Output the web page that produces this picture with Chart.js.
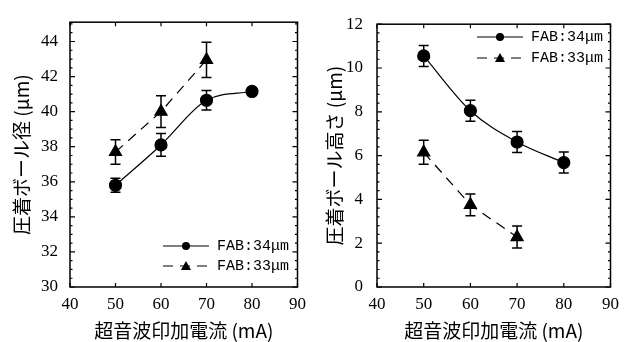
<!DOCTYPE html>
<html>
<head>
<meta charset="utf-8">
<script src="https://cdn.jsdelivr.net/npm/chart.js@4.4.1/dist/chart.umd.min.js"></script>
<style>
  html, body { margin: 0; padding: 0; background: #fff; }
  #wrap { width: 626px; height: 342px; display: flex; }
  canvas { display: block; }
</style>
</head>
<body>
<div id="wrap">
  <canvas id="chart_diameter" width="313" height="342"></canvas>
  <canvas id="chart_height" width="313" height="342"></canvas>
</div>
<script>
// x: ultrasonic current (mA)
const currents34 = [50, 60, 70, 80];
const currents33 = [50, 60, 70];
const xTicks = [40, 50, 60, 70, 80, 90];

// left: bonded ball diameter (um)
const diameter34 = [35.8, 38.1, 40.65, 41.15];
const diameter34Err = [0.4, 0.65, 0.55, 0.2];
const diameter33 = [37.7, 40.0, 42.95];
const diameter33Err = [0.7, 0.9, 1.0];
const diameterTicks = [30, 32, 34, 36, 38, 40, 42, 44];

// right: bonded ball height (um)
const height34 = [10.55, 8.05, 6.62, 5.68];
const height34Err = [0.48, 0.48, 0.48, 0.48];
const height33 = [6.15, 3.75, 2.28];
const height33Err = [0.55, 0.5, 0.5];
const heightTicks = [0, 2, 4, 6, 8, 10, 12];

const legendLabels = ["FAB:34\u03bcm", "FAB:33\u03bcm"];

const tickFont = { family: "'Liberation Serif', serif", size: 17 };
const titleFont = { family: "'Noto Sans CJK JP', sans-serif", size: 19 };

// error bars drawn through the chart scales
const errorBars = {
  id: "errorBars",
  afterDatasetsDraw(chart) {
    const ctx = chart.ctx;
    const xs = chart.scales.x, ys = chart.scales.y;
    ctx.save();
    ctx.strokeStyle = "#000";
    ctx.lineWidth = 1.5;
    chart.data.datasets.forEach((ds) => {
      ds.data.forEach((p, i) => {
        const e = ds.errors[i];
        const px = xs.getPixelForValue(p.x);
        const top = ys.getPixelForValue(p.y + e);
        const bot = ys.getPixelForValue(p.y - e);
        ctx.beginPath();
        ctx.moveTo(px, top); ctx.lineTo(px, bot);
        ctx.moveTo(px - 5, top); ctx.lineTo(px + 5, top);
        ctx.moveTo(px - 5, bot); ctx.lineTo(px + 5, bot);
        ctx.stroke();
      });
    });
    ctx.restore();
  },
};

// box frame with inward ticks on all four sides
const frameTicks = {
  id: "frameTicks",
  afterDraw(chart, args, opts) {
    const ctx = chart.ctx;
    const a = chart.chartArea;
    const xs = chart.scales.x, ys = chart.scales.y;
    ctx.save();
    ctx.strokeStyle = "#000";
    ctx.lineWidth = 1.5;
    ctx.strokeRect(a.left, a.top, a.right - a.left, a.bottom - a.top);
    ctx.lineWidth = 1.2;
    ctx.beginPath();
    xs.ticks.forEach((t) => {
      const px = xs.getPixelForValue(t.value);
      ctx.moveTo(px, a.bottom); ctx.lineTo(px, a.bottom - 4);
      ctx.moveTo(px, a.top); ctx.lineTo(px, a.top + 4);
    });
    ys.ticks.forEach((t) => {
      const py = ys.getPixelForValue(t.value);
      ctx.moveTo(a.left, py); ctx.lineTo(a.left + 5, py);
      ctx.moveTo(a.right, py); ctx.lineTo(a.right - 5, py);
    });
    for (let v = ys.min; v <= ys.max + 1e-9; v += opts.minor) {
      const py = ys.getPixelForValue(v);
      ctx.moveTo(a.left, py); ctx.lineTo(a.left + 2.5, py);
      ctx.moveTo(a.right, py); ctx.lineTo(a.right - 2.5, py);
    }
    ctx.stroke();
    ctx.restore();
  },
};

// legend placed inside the plot
const insideLegend = {
  id: "insideLegend",
  afterDraw(chart, args, opts) {
    const ctx = chart.ctx;
    ctx.save();
    ctx.fillStyle = "#000";
    ctx.strokeStyle = "#000";
    ctx.font = "15px 'Liberation Mono', monospace";
    ctx.textBaseline = "middle";
    chart.data.datasets.forEach((ds, i) => {
      const y = opts.y + i * opts.gap;
      ctx.lineWidth = 1.2;
      ctx.setLineDash(ds.borderDash || []);
      ctx.beginPath();
      ctx.moveTo(opts.x, y); ctx.lineTo(opts.x + 46, y);
      ctx.stroke();
      ctx.setLineDash([]);
      const cx = opts.x + 23;
      ctx.beginPath();
      if (ds.pointStyle === "triangle") {
        ctx.moveTo(cx, y - 5); ctx.lineTo(cx + 5, y + 4); ctx.lineTo(cx - 5, y + 4);
        ctx.closePath();
      } else {
        ctx.arc(cx, y, 4, 0, Math.PI * 2);
      }
      ctx.fill();
      ctx.fillText(ds.label, opts.x + 54, y);
    });
    ctx.restore();
  },
};

function pts(xs, ys) {
  return xs.map((x, i) => ({ x: x, y: ys[i] }));
}

function makeChart(canvas, s) {
  return new Chart(canvas, {
    type: "line",
    data: {
      datasets: [
        {
          label: legendLabels[0],
          data: pts(currents34, s.y34),
          errors: s.e34,
          borderColor: "#000",
          backgroundColor: "#000",
          borderWidth: 1.2,
          pointStyle: "circle",
          pointRadius: 6,
          cubicInterpolationMode: "monotone",
        },
        {
          label: legendLabels[1],
          data: pts(currents33, s.y33),
          errors: s.e33,
          borderColor: "#000",
          backgroundColor: "#000",
          borderWidth: 1.2,
          borderDash: [10, 7],
          pointStyle: "triangle",
          pointRadius: 7,
        },
      ],
    },
    options: {
      responsive: false,
      animation: false,
      layout: { padding: { top: 16, right: s.padRight, left: 0, bottom: 0 } },
      plugins: {
        legend: { display: false },
        tooltip: { enabled: false },
        frameTicks: { minor: s.minor },
        insideLegend: s.legend,
      },
      scales: {
        x: {
          type: "linear",
          min: 40,
          max: 90,
          afterBuildTicks: (sc) => { sc.ticks = xTicks.map((v) => ({ value: v })); },
          afterFit: (sc) => { sc.height = 55; },
          grid: { display: false, drawTicks: false },
          border: { display: false },
          ticks: { color: "#000", font: tickFont, padding: 7, maxRotation: 0 },
          title: {
            display: true,
            text: "超音波印加電流 (mA)",
            color: "#000",
            font: titleFont,
            padding: { top: 0, bottom: 0 },
          },
        },
        y: {
          type: "linear",
          min: s.min,
          max: s.max,
          afterBuildTicks: (sc) => { sc.ticks = s.ticks.map((v) => ({ value: v })); },
          afterFit: (sc) => { sc.width = s.yWidth; },
          grid: { display: false, drawTicks: false },
          border: { display: false },
          ticks: { color: "#000", font: tickFont, padding: s.tickPad },
          title: {
            display: true,
            text: s.title,
            color: "#000",
            font: titleFont,
            padding: { top: 10, bottom: 0 },
          },
        },
      },
    },
    plugins: [errorBars, frameTicks, insideLegend],
  });
}

document.addEventListener("DOMContentLoaded", function () {
  makeChart(document.getElementById("chart_diameter"), {
    y34: diameter34, e34: diameter34Err,
    y33: diameter33, e33: diameter33Err,
    min: 30, max: 45.1, ticks: diameterTicks, minor: 0.5,
    title: "圧着ボール径 (\u03bcm)",
    yWidth: 70, padRight: 8, tickPad: 12,
    legend: { x: 163, y: 246, gap: 20 },
  });
  makeChart(document.getElementById("chart_height"), {
    y34: height34, e34: height34Err,
    y33: height33, e33: height33Err,
    min: 0, max: 12, ticks: heightTicks, minor: 0.4,
    title: "圧着ボール高さ (\u03bcm)",
    yWidth: 64, padRight: 12, tickPad: 14,
    legend: { x: 164, y: 37, gap: 21 },
  });
});
</script>
</body>
</html>
